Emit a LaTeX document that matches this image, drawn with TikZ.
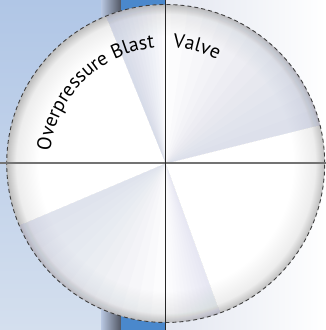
\documentclass[tikz,border=0pt]{standalone}
\usepackage{fontspec}
\setmainfont{PT Sans}
\usetikzlibrary{decorations.text}

\definecolor{paneltop}{RGB}{176,198,230}
\definecolor{panelbottom}{RGB}{212,223,238}
\definecolor{paneledge}{RGB}{185,200,226}
\definecolor{shadowgrey}{RGB}{80,85,98}
\definecolor{stripeblue}{RGB}{74,136,204}
\definecolor{backgrey}{RGB}{226,230,240}
\definecolor{sheen}{RGB}{170,180,212}

\pgfdeclareradialshading{valverim}{\pgfpoint{0bp}{0bp}}{color(0bp)=(white); color(20bp)=(white); color(23.5bp)=(black!7); color(25bp)=(black!26); color(50bp)=(black!26)}

\begin{document}
\begin{tikzpicture}[x=1pt,y=1pt,
    blade/.style={fill=sheen, opacity=#1},
    arclabel/.style={decorate, decoration={text along path, text align=left,
        text={|\fontsize{19.8}{24}\selectfont|#1}}}]
    \useasboundingbox (0,0) rectangle (326,330);

    % Background panels
    \shade[top color=paneltop, bottom color=panelbottom] (0,0) rectangle (101,330);
    \shade[left color=paneledge, right color=shadowgrey] (101,0) rectangle (121,330);
    \fill[stripeblue] (121,0) rectangle (166,330);
    \shade[left color=backgrey, right color=white] (166,0) rectangle (326,330);

    % Valve face
    \coordinate (c) at (165.7,166.5);
    \shade[shading=valverim] (c) circle[radius=159];
    \foreach \edge/\span/\op in {14/74/0.035, 112/-22/0.045, 203/67/0.03, 290/-20/0.02}
      \foreach \k in {1,...,12}
        \fill[blade=\op] (c) -- ++(\edge:159)
          arc[start angle=\edge, delta angle=\span*\k/12, radius=159] -- cycle;
    \draw[black!75, line width=0.9pt, dash pattern=on 4pt off 3pt] (c) circle[radius=159];

    % Crosshair
    \coordinate (west) at (0,166.5);
    \coordinate (east) at (326,166.5);
    \coordinate (north) at (165.7,330);
    \coordinate (south) at (165.7,0);
    \draw[black!55, line width=2pt] (west) -- (east);
    \draw[black!85, line width=1.2pt] (north) -- (south);

    % Labels
    \path[arclabel=Overpressure Blast] (c) ++(174:116) arc[start angle=174, end angle=40, radius=116];
    \path[arclabel=Valve] (c) ++(86.5:116) arc[start angle=86.5, end angle=30, radius=116];
\end{tikzpicture}
\end{document}
